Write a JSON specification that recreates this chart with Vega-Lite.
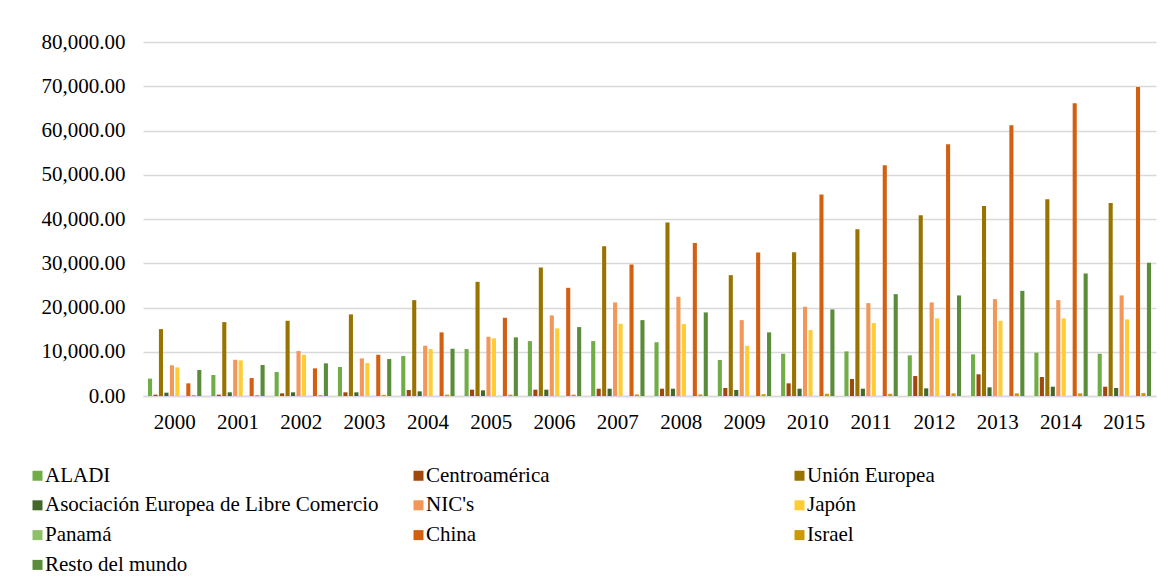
{
  "$schema": "https://vega.github.io/schema/vega-lite/v6.json",
  "autosize": {"type": "none"},
  "width": 1013,
  "height": 354,
  "padding": {"left": 143, "top": 42, "right": 14, "bottom": 189},
  "background": "#ffffff",
  "config": {
    "font": "'Liberation Serif', 'DejaVu Serif', serif",
    "view": {"stroke": null},
    "axis": {"labelFont": "'Liberation Serif', 'DejaVu Serif', serif", "labelColor": "#000000", "labelFontSize": 21},
    "legend": {"labelFont": "'Liberation Serif', 'DejaVu Serif', serif"}
  },
  "data": {
    "values": [
      {"year": "2000", "region": "ALADI", "value": 3920},
      {"year": "2000", "region": "Centroamérica", "value": 300},
      {"year": "2000", "region": "Unión Europea", "value": 15120},
      {"year": "2000", "region": "Asociación Europea de Libre Comercio", "value": 750},
      {"year": "2000", "region": "NIC's", "value": 6930},
      {"year": "2000", "region": "Japón", "value": 6470},
      {"year": "2000", "region": "Panamá", "value": 30},
      {"year": "2000", "region": "China", "value": 2860},
      {"year": "2000", "region": "Israel", "value": 200},
      {"year": "2000", "region": "Resto del mundo", "value": 5870},
      {"year": "2001", "region": "ALADI", "value": 4740},
      {"year": "2001", "region": "Centroamérica", "value": 300},
      {"year": "2001", "region": "Unión Europea", "value": 16700},
      {"year": "2001", "region": "Asociación Europea de Libre Comercio", "value": 830},
      {"year": "2001", "region": "NIC's", "value": 8190},
      {"year": "2001", "region": "Japón", "value": 8050},
      {"year": "2001", "region": "Panamá", "value": 30},
      {"year": "2001", "region": "China", "value": 4060},
      {"year": "2001", "region": "Israel", "value": 200},
      {"year": "2001", "region": "Resto del mundo", "value": 7000},
      {"year": "2002", "region": "ALADI", "value": 5420},
      {"year": "2002", "region": "Centroamérica", "value": 600},
      {"year": "2002", "region": "Unión Europea", "value": 17000},
      {"year": "2002", "region": "Asociación Europea de Libre Comercio", "value": 830},
      {"year": "2002", "region": "NIC's", "value": 10160},
      {"year": "2002", "region": "Japón", "value": 9320},
      {"year": "2002", "region": "Panamá", "value": 30},
      {"year": "2002", "region": "China", "value": 6250},
      {"year": "2002", "region": "Israel", "value": 200},
      {"year": "2002", "region": "Resto del mundo", "value": 7380},
      {"year": "2003", "region": "ALADI", "value": 6550},
      {"year": "2003", "region": "Centroamérica", "value": 830},
      {"year": "2003", "region": "Unión Europea", "value": 18440},
      {"year": "2003", "region": "Asociación Europea de Libre Comercio", "value": 830},
      {"year": "2003", "region": "NIC's", "value": 8500},
      {"year": "2003", "region": "Japón", "value": 7450},
      {"year": "2003", "region": "Panamá", "value": 30},
      {"year": "2003", "region": "China", "value": 9320},
      {"year": "2003", "region": "Israel", "value": 250},
      {"year": "2003", "region": "Resto del mundo", "value": 8350},
      {"year": "2004", "region": "ALADI", "value": 9030},
      {"year": "2004", "region": "Centroamérica", "value": 1350},
      {"year": "2004", "region": "Unión Europea", "value": 21670},
      {"year": "2004", "region": "Asociación Europea de Libre Comercio", "value": 1050},
      {"year": "2004", "region": "NIC's", "value": 11360},
      {"year": "2004", "region": "Japón", "value": 10610},
      {"year": "2004", "region": "Panamá", "value": 30},
      {"year": "2004", "region": "China", "value": 14380},
      {"year": "2004", "region": "Israel", "value": 300},
      {"year": "2004", "region": "Resto del mundo", "value": 10680},
      {"year": "2005", "region": "ALADI", "value": 10610},
      {"year": "2005", "region": "Centroamérica", "value": 1430},
      {"year": "2005", "region": "Unión Europea", "value": 25800},
      {"year": "2005", "region": "Asociación Europea de Libre Comercio", "value": 1280},
      {"year": "2005", "region": "NIC's", "value": 13390},
      {"year": "2005", "region": "Japón", "value": 13020},
      {"year": "2005", "region": "Panamá", "value": 30},
      {"year": "2005", "region": "China", "value": 17680},
      {"year": "2005", "region": "Israel", "value": 300},
      {"year": "2005", "region": "Resto del mundo", "value": 13250},
      {"year": "2006", "region": "ALADI", "value": 12410},
      {"year": "2006", "region": "Centroamérica", "value": 1430},
      {"year": "2006", "region": "Unión Europea", "value": 29040},
      {"year": "2006", "region": "Asociación Europea de Libre Comercio", "value": 1430},
      {"year": "2006", "region": "NIC's", "value": 18210},
      {"year": "2006", "region": "Japón", "value": 15280},
      {"year": "2006", "region": "Panamá", "value": 30},
      {"year": "2006", "region": "China", "value": 24450},
      {"year": "2006", "region": "Israel", "value": 300},
      {"year": "2006", "region": "Resto del mundo", "value": 15570},
      {"year": "2007", "region": "ALADI", "value": 12410},
      {"year": "2007", "region": "Centroamérica", "value": 1650},
      {"year": "2007", "region": "Unión Europea", "value": 33860},
      {"year": "2007", "region": "Asociación Europea de Libre Comercio", "value": 1650},
      {"year": "2007", "region": "NIC's", "value": 21150},
      {"year": "2007", "region": "Japón", "value": 16320},
      {"year": "2007", "region": "Panamá", "value": 30},
      {"year": "2007", "region": "China", "value": 29720},
      {"year": "2007", "region": "Israel", "value": 350},
      {"year": "2007", "region": "Resto del mundo", "value": 17150},
      {"year": "2008", "region": "ALADI", "value": 12120},
      {"year": "2008", "region": "Centroamérica", "value": 1650},
      {"year": "2008", "region": "Unión Europea", "value": 39200},
      {"year": "2008", "region": "Asociación Europea de Libre Comercio", "value": 1650},
      {"year": "2008", "region": "NIC's", "value": 22420},
      {"year": "2008", "region": "Japón", "value": 16250},
      {"year": "2008", "region": "Panamá", "value": 30},
      {"year": "2008", "region": "China", "value": 34600},
      {"year": "2008", "region": "Israel", "value": 350},
      {"year": "2008", "region": "Resto del mundo", "value": 18890},
      {"year": "2009", "region": "ALADI", "value": 8130},
      {"year": "2009", "region": "Centroamérica", "value": 1810},
      {"year": "2009", "region": "Unión Europea", "value": 27310},
      {"year": "2009", "region": "Asociación Europea de Libre Comercio", "value": 1350},
      {"year": "2009", "region": "NIC's", "value": 17150},
      {"year": "2009", "region": "Japón", "value": 11360},
      {"year": "2009", "region": "Panamá", "value": 30},
      {"year": "2009", "region": "China", "value": 32430},
      {"year": "2009", "region": "Israel", "value": 400},
      {"year": "2009", "region": "Resto del mundo", "value": 14380},
      {"year": "2010", "region": "ALADI", "value": 9550},
      {"year": "2010", "region": "Centroamérica", "value": 2860},
      {"year": "2010", "region": "Unión Europea", "value": 32500},
      {"year": "2010", "region": "Asociación Europea de Libre Comercio", "value": 1650},
      {"year": "2010", "region": "NIC's", "value": 20160},
      {"year": "2010", "region": "Japón", "value": 14900},
      {"year": "2010", "region": "Panamá", "value": 30},
      {"year": "2010", "region": "China", "value": 45520},
      {"year": "2010", "region": "Israel", "value": 500},
      {"year": "2010", "region": "Resto del mundo", "value": 19560},
      {"year": "2011", "region": "ALADI", "value": 10080},
      {"year": "2011", "region": "Centroamérica", "value": 3840},
      {"year": "2011", "region": "Unión Europea", "value": 37690},
      {"year": "2011", "region": "Asociación Europea de Libre Comercio", "value": 1650},
      {"year": "2011", "region": "NIC's", "value": 20990},
      {"year": "2011", "region": "Japón", "value": 16480},
      {"year": "2011", "region": "Panamá", "value": 30},
      {"year": "2011", "region": "China", "value": 52140},
      {"year": "2011", "region": "Israel", "value": 500},
      {"year": "2011", "region": "Resto del mundo", "value": 23020},
      {"year": "2012", "region": "ALADI", "value": 9190},
      {"year": "2012", "region": "Centroamérica", "value": 4510},
      {"year": "2012", "region": "Unión Europea", "value": 40850},
      {"year": "2012", "region": "Asociación Europea de Libre Comercio", "value": 1730},
      {"year": "2012", "region": "NIC's", "value": 21150},
      {"year": "2012", "region": "Japón", "value": 17540},
      {"year": "2012", "region": "Panamá", "value": 30},
      {"year": "2012", "region": "China", "value": 56880},
      {"year": "2012", "region": "Israel", "value": 600},
      {"year": "2012", "region": "Resto del mundo", "value": 22730},
      {"year": "2013", "region": "ALADI", "value": 9410},
      {"year": "2013", "region": "Centroamérica", "value": 4900},
      {"year": "2013", "region": "Unión Europea", "value": 42950},
      {"year": "2013", "region": "Asociación Europea de Libre Comercio", "value": 1960},
      {"year": "2013", "region": "NIC's", "value": 21890},
      {"year": "2013", "region": "Japón", "value": 17000},
      {"year": "2013", "region": "Panamá", "value": 30},
      {"year": "2013", "region": "China", "value": 61170},
      {"year": "2013", "region": "Israel", "value": 600},
      {"year": "2013", "region": "Resto del mundo", "value": 23770},
      {"year": "2014", "region": "ALADI", "value": 9780},
      {"year": "2014", "region": "Centroamérica", "value": 4290},
      {"year": "2014", "region": "Unión Europea", "value": 44460},
      {"year": "2014", "region": "Asociación Europea de Libre Comercio", "value": 2100},
      {"year": "2014", "region": "NIC's", "value": 21670},
      {"year": "2014", "region": "Japón", "value": 17540},
      {"year": "2014", "region": "Panamá", "value": 30},
      {"year": "2014", "region": "China", "value": 66130},
      {"year": "2014", "region": "Israel", "value": 600},
      {"year": "2014", "region": "Resto del mundo", "value": 27690},
      {"year": "2015", "region": "ALADI", "value": 9550},
      {"year": "2015", "region": "Centroamérica", "value": 2100},
      {"year": "2015", "region": "Unión Europea", "value": 43630},
      {"year": "2015", "region": "Asociación Europea de Libre Comercio", "value": 1810},
      {"year": "2015", "region": "NIC's", "value": 22730},
      {"year": "2015", "region": "Japón", "value": 17310},
      {"year": "2015", "region": "Panamá", "value": 30},
      {"year": "2015", "region": "China", "value": 69850},
      {"year": "2015", "region": "Israel", "value": 650},
      {"year": "2015", "region": "Resto del mundo", "value": 30090}
    ]
  },
  "mark": {"type": "bar"},
  "encoding": {
    "x": {
      "field": "year",
      "type": "nominal",
      "scale": {"paddingInner": 0.14, "paddingOuter": 0.07},
      "axis": {
        "title": null,
        "labelAngle": 0,
        "ticks": false,
        "tickSize": 0,
        "labelPadding": 15,
        "domainColor": "#D9D9D9",
        "domainWidth": 1.5,
        "grid": false
      }
    },
    "xOffset": {
      "field": "region",
      "type": "nominal",
      "scale": {
        "domain": ["ALADI", "Centroamérica", "Unión Europea", "Asociación Europea de Libre Comercio", "NIC's", "Japón", "Panamá", "China", "Israel", "Resto del mundo"],
        "paddingInner": 0.25,
        "paddingOuter": 0.1
      }
    },
    "y": {
      "field": "value",
      "type": "quantitative",
      "scale": {"domain": [0, 80000], "nice": false},
      "axis": {
        "title": null,
        "values": [0, 10000, 20000, 30000, 40000, 50000, 60000, 70000, 80000],
        "format": ",.2f",
        "ticks": false,
        "tickSize": 0,
        "domain": false,
        "labelPadding": 18,
        "gridColor": "#D9D9D9",
        "gridWidth": 1.5
      }
    },
    "color": {
      "field": "region",
      "type": "nominal",
      "scale": {
        "domain": ["ALADI", "Centroamérica", "Unión Europea", "Asociación Europea de Libre Comercio", "NIC's", "Japón", "Panamá", "China", "Israel", "Resto del mundo"],
        "range": ["#70AD47", "#9E480E", "#997300", "#43682B", "#F1975A", "#FFCD33", "#8CC168", "#D26012", "#CC9A00", "#5B8C3A"]
      },
      "legend": {
        "title": null,
        "orient": "none",
        "legendX": -116,
        "legendY": 423,
        "direction": "horizontal",
        "columns": 3,
        "gridAlign": "all",
        "columnPadding": 29,
        "rowPadding": 7.8,
        "padding": 0,
        "symbolType": "square",
        "symbolSize": 100,
        "symbolStrokeWidth": 0,
        "symbolOffset": 0,
        "labelFont": "'Liberation Serif', 'DejaVu Serif', serif",
        "labelFontSize": 21,
        "labelColor": "#000000",
        "labelOffset": -3,
        "labelLimit": 600
      }
    }
  }
}
